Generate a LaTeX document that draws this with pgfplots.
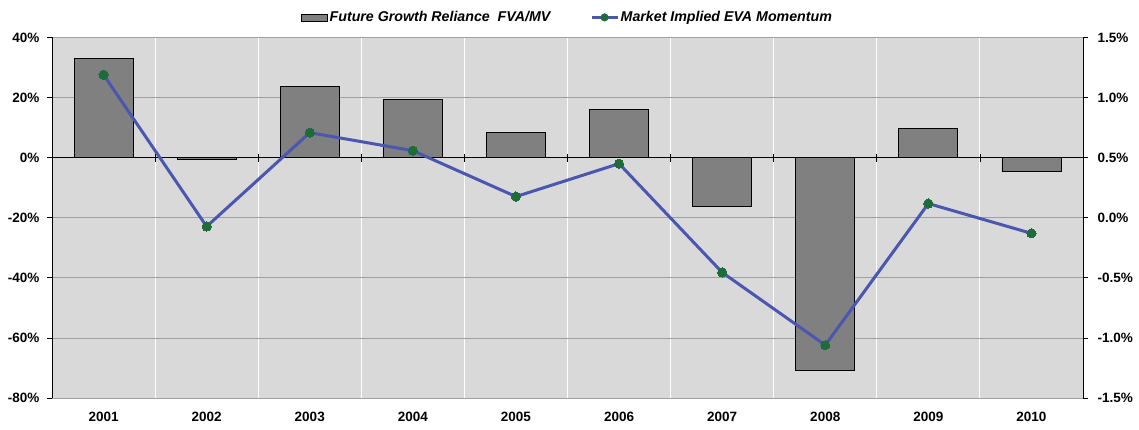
\documentclass[border=0pt]{standalone}
\usepackage{pgfplots}
\pgfplotsset{compat=1.18}
\usepackage{fontspec}
\setmainfont{Liberation Sans}
\definecolor{bgc}{HTML}{D9D9D9}
\definecolor{barc}{HTML}{808080}
\definecolor{linec}{HTML}{4B56B0}
\definecolor{markc}{HTML}{1E6B3C}
\definecolor{gridc}{HTML}{A0A0A0}

\begin{document}
\begin{tikzpicture}[font=\fontsize{13.5}{15}\selectfont\bfseries]
\pgfplotsset{
  common/.style={
    width=1031pt, height=360.5pt, scale only axis,
    xmin=-0.5, xmax=9.5,
    tick style={black, line width=0.8pt},
    tick align=outside, major tick length=5pt,
    axis line style={black, line width=0.8pt},
  }
}
% bars: left axis
\begin{axis}[common,
  ymin=-80, ymax=40,
  ytick={-80,-60,...,40},
  yticklabels={-80\%,-60\%,-40\%,-20\%,0\%,20\%,40\%},
  yticklabel style={xshift=-4pt},
  axis background/.style={fill=bgc},
  axis y line*=left, axis x line*=bottom,
  x axis line style={draw=gridc},
  ymajorgrids, major grid style={gridc, line width=0.8pt},
  xtick={0,...,9},
  xticklabels={2001,2002,2003,2004,2005,2006,2007,2008,2009,2010},
  xticklabel style={yshift=-6pt},
  major x tick style={draw=none},
  minor xtick={0.5,1.5,...,8.5},
  xminorgrids, minor grid style={white, line width=1pt},
  minor x tick style={draw=none},
  ybar, bar width=59pt, bar shift=0pt,
  legend style={at={(0.5,1)}, anchor=south, yshift=10pt, draw=none, fill=none,
    font=\fontsize{14.2}{16}\selectfont\bfseries\itshape,
    /tikz/every even column/.append style={column sep=38pt}},
  legend columns=2,
]
\addplot[fill=barc, draw=black, line width=0.8pt,
  legend image code/.code={\draw[fill=barc, draw=black, line width=0.6pt] (0pt,-3.5pt) rectangle (26pt,3.5pt);}]
  coordinates {(0,33.0) (1,-0.5) (2,23.6) (3,19.3) (4,8.3) (5,16.0) (6,-16.3) (7,-70.8) (8,9.6) (9,-4.7)};
\addlegendentry{Future Growth Reliance\ \ FVA/MV}
\addlegendimage{legend image code/.code={\draw[linec, line width=2.4pt] (0pt,0pt) -- (26pt,0pt); \fill[markc] (13pt,0pt) circle (3.8pt);}}
\addlegendentry{Market Implied EVA Momentum}
\draw[black, line width=0.9pt] (axis cs:-0.5,0) -- (axis cs:9.5,0);
\pgfplotsinvokeforeach{0.5,1.5,2.5,3.5,4.5,5.5,6.5,7.5,8.5}{
  \draw[black, line width=0.8pt] (axis cs:#1,0) ++(0pt,-4pt) -- ++(0pt,8pt);
}
\end{axis}
% line: right axis
\begin{axis}[common,
  ymin=-1.5, ymax=1.5,
  ytick={-1.5,-1,...,1.5},
  yticklabels={-1.5\%,-1.0\%,-0.5\%,0.0\%,0.5\%,1.0\%,1.5\%},
  yticklabel style={xshift=6pt},
  axis y line*=right, axis x line=none,
]
\addplot[linec, line width=3pt, mark=*, mark size=4.6pt,
  mark options={fill=markc, draw=markc, line width=0pt}]
  coordinates {(0,1.19) (1,-0.073) (2,0.708) (3,0.558) (4,0.176) (5,0.45) (6,-0.455) (7,-1.06) (8,0.118) (9,-0.13)};
\end{axis}
\path (current axis.south west) ++(-52pt,-32pt) coordinate (bbsw);
\path (current axis.north east) ++(56pt,37.5pt) coordinate (bbne);
\path (bbsw) rectangle (bbne);
\end{tikzpicture}
\end{document}
